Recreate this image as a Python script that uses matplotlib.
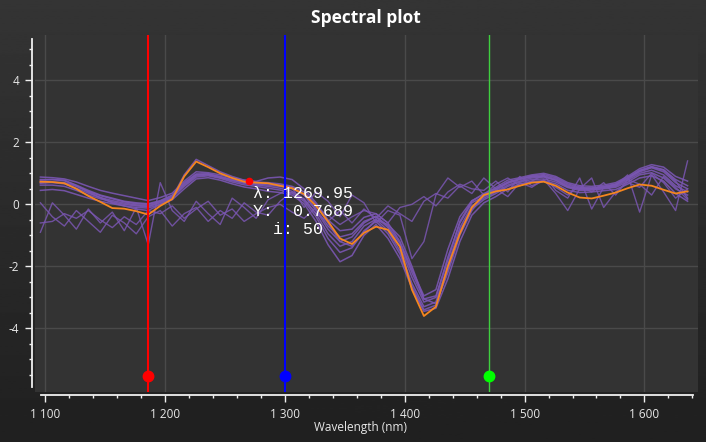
import numpy as np
import matplotlib
matplotlib.use("Agg")
import matplotlib.pyplot as plt
from matplotlib.ticker import MultipleLocator, FixedLocator, FuncFormatter

plt.rcParams["axes.unicode_minus"] = False

# wavelength grid (nm)
wl = np.arange(1096, 1646, 10)

# mean / reference spectrum (orange)
orange = [0.73, 0.72, 0.68, 0.50, 0.27, 0.08, -0.12, -0.14, -0.22, -0.33,
          -0.05, 0.17, 0.90, 1.38, 1.20, 1.00, 0.85, 0.73, 0.70, 0.68,
          0.60, 0.52, 0.33, -0.05, -0.55, -1.10, -1.28, -0.92, -0.72, -0.82,
          -1.37, -2.75, -3.60, -3.30, -2.00, -0.94, -0.10, 0.30, 0.42, 0.48,
          0.60, 0.70, 0.73, 0.60, 0.38, 0.22, 0.19, 0.28, 0.38, 0.52,
          0.64, 0.60, 0.47, 0.35, 0.42]

# smooth spectra (purple)
p1 = [0.88, 0.86, 0.82, 0.72, 0.58, 0.45, 0.36, 0.28, 0.20, 0.12,
      0.22, 0.36, 0.75, 1.05, 1.02, 0.95, 0.85, 0.78, 0.74, 0.85,
      0.88, 0.80, 0.50, 0.05, -0.50, -0.85, -0.80, -0.42, -0.30, -0.60,
      -1.20, -2.10, -2.95, -2.75, -1.45, -0.40, 0.12, 0.32, 0.55, 0.78,
      0.86, 0.95, 1.00, 0.90, 0.70, 0.60, 0.58, 0.62, 0.70, 0.90,
      1.15, 1.28, 1.20, 0.90, 0.75]
p2 = [0.78, 0.80, 0.78, 0.62, 0.45, 0.30, 0.20, 0.10, 0.05, 0.02,
      0.12, 0.30, 0.70, 0.98, 0.98, 0.90, 0.80, 0.72, 0.66, 0.62,
      0.58, 0.50, 0.30, -0.15, -0.70, -1.05, -0.95, -0.55, -0.40, -0.75,
      -1.35, -2.35, -3.15, -3.00, -1.70, -0.60, 0.05, 0.25, 0.45, 0.68,
      0.80, 0.90, 0.92, 0.82, 0.62, 0.52, 0.50, 0.55, 0.62, 0.82,
      1.05, 1.18, 1.05, 0.70, 0.50]
p3 = [0.70, 0.70, 0.66, 0.52, 0.36, 0.22, 0.12, 0.04, -0.02, -0.05,
      0.08, 0.25, 0.62, 0.92, 0.95, 0.86, 0.76, 0.68, 0.62, 0.58,
      0.52, 0.42, 0.18, -0.30, -0.95, -1.35, -1.20, -0.70, -0.48, -0.85,
      -1.50, -2.55, -3.30, -3.15, -1.95, -0.75, -0.05, 0.20, 0.40, 0.62,
      0.75, 0.85, 0.88, 0.78, 0.58, 0.48, 0.48, 0.52, 0.58, 0.78,
      1.00, 1.10, 0.95, 0.60, 0.40]
p4 = [0.62, 0.62, 0.58, 0.45, 0.30, 0.18, 0.08, 0.00, -0.05, -0.08,
      0.05, 0.22, 0.58, 0.88, 0.92, 0.84, 0.72, 0.63, 0.58, 0.52,
      0.46, 0.36, 0.10, -0.40, -1.10, -1.55, -1.40, -0.85, -0.55, -0.95,
      -1.60, -2.65, -3.40, -3.25, -2.10, -0.85, -0.15, 0.15, 0.35, 0.58,
      0.72, 0.80, 0.82, 0.72, 0.54, 0.45, 0.46, 0.50, 0.55, 0.72,
      0.95, 1.02, 0.85, 0.50, 0.30]
p5 = [0.45, 0.48, 0.44, 0.32, 0.20, 0.10, 0.02, -0.05, -0.10, -0.12,
      0.00, 0.15, 0.50, 0.82, 0.86, 0.78, 0.66, 0.56, 0.50, 0.42,
      0.38, 0.30, 0.02, -0.55, -1.30, -1.85, -1.65, -1.00, -0.65, -1.10,
      -1.75, -2.70, -3.45, -3.35, -2.40, -1.20, -0.35, 0.05, 0.25, 0.50,
      0.66, 0.74, 0.76, 0.66, 0.45, 0.38, 0.40, 0.44, 0.48, 0.65,
      0.85, 0.92, 0.75, 0.35, 0.10]
p6 = [0.80, 0.80, 0.76, 0.60, 0.40, 0.22, 0.05, -0.05, -0.15, -0.20,
      0.00, 0.22, 0.95, 1.45, 1.25, 1.05, 0.90, 0.78, 0.72, 0.70,
      0.66, 0.58, 0.40, 0.00, -0.60, -1.20, -1.35, -0.90, -0.50, -0.65,
      -1.05, -2.00, -3.05, -3.20, -2.20, -1.00, -0.20, 0.28, 0.50, 0.70,
      0.82, 0.88, 0.90, 0.78, 0.56, 0.50, 0.52, 0.56, 0.64, 0.85,
      1.10, 1.22, 1.12, 0.80, 0.60]
p7 = [0.68, 0.72, 0.70, 0.58, 0.42, 0.28, 0.18, 0.08, 0.02, 0.00,
      0.10, 0.28, 0.66, 0.96, 0.98, 0.88, 0.78, 0.70, 0.66, 0.66,
      0.62, 0.55, 0.30, -0.20, -0.80, -1.20, -1.05, -0.60, -0.38, -0.70,
      -1.25, -2.20, -3.05, -2.95, -1.80, -0.55, 0.10, 0.35, 0.50, 0.72,
      0.82, 0.92, 0.96, 0.86, 0.66, 0.55, 0.53, 0.58, 0.66, 0.86,
      1.08, 1.20, 1.10, 0.75, 0.20]

# noisy spectra (purple)
n1 = [-0.90, 0.05, -0.35, -0.80, -0.15, -0.60, -0.25, -0.85, -0.10, -1.30,
      0.70, -0.20, -0.55, 0.10, -0.30, -0.65, 0.20, -0.10, -0.45, 0.15,
      0.35, 0.55, -0.10, 0.40, 0.10, -0.40, 0.30, 0.05, -0.60, -0.20,
      -0.35, -1.75, -1.20, 0.30, 0.85, 0.55, 0.75, 0.30, 0.65, 0.85,
      0.60, 0.75, 0.95, 0.45, 0.20, 0.85, -0.15, 0.55, 0.60, 0.95,
      -0.25, 0.95, 0.40, -0.20, 1.40]
n2 = [0.05, -0.40, -0.70, -0.20, -0.55, -0.90, -0.35, -0.60, -0.95, -0.40,
      -0.20, -0.70, -0.30, -0.10, -0.55, -0.20, -0.45, 0.05, -0.25, -0.35,
      0.10, 0.40, 0.15, -0.30, -0.55, -0.20, -0.60, -0.15, -0.45, -0.05,
      -0.30, -0.55, 0.10, 0.35, 0.20, 0.60, 0.35, 0.85, 0.50, 0.25,
      0.70, 0.55, 0.80, 0.35, -0.20, 0.50, 0.85, -0.10, 0.40, 0.70,
      0.55, 1.00, 0.70, 0.20, 0.50]
n3 = [-0.60, -0.55, -0.30, -0.45, -0.20, -0.50, -0.75, -0.40, -0.65, -0.20,
      -0.30, -0.05, -0.45, -0.15, 0.10, -0.35, -0.15, -0.55, -0.30, -0.10,
      0.00, -0.25, -0.45, -0.10, -0.35, -0.65, -0.40, -0.20, -0.30, -0.60,
      -0.10, 0.00, 0.25, -0.05, 0.40, 0.65, 0.50, 0.45, 0.75, 0.40,
      0.90, 0.60, 0.75, 0.55, 0.30, 0.60, 0.40, 0.70, 0.30, 0.80,
      0.65, 0.30, 0.90, 0.55, 0.15]

smooth = [p1, p2, p3, p4, p5, p6, p7]
noisy = [n1, n2, n3]

# axis ticks
y_major = [-4, -2, 0, 2, 4]
y_minor = [-5.5, -5, -4.5, -3.5, -3, -2.5, -1.5, -1, -0.5,
           0.5, 1, 1.5, 2.5, 3, 3.5, 4.5, 5]

# cursors
cursor_x = [1186, 1300, 1470]
cursor_line = ["#ff0000", "#0000ff", "#3fcf3f"]
cursor_dot = ["#ff0000", "#0000ff", "#00ff00"]
cursor_y = -5.54

# hover point
hover_x, hover_y, hover_i = 1269.95, 0.7689, 50

W, H = 706, 442
fig = plt.figure(figsize=(W / 100, H / 100), dpi=100)

# background gradient
bg = fig.add_axes([0, 0, 1, 1], zorder=-5)
grad = np.linspace(0.205, 0.125, 256).reshape(-1, 1)
bg.imshow(grad, aspect="auto", cmap="gray", vmin=0, vmax=1, extent=[0, 1, 0, 1])
bg.axis("off")

ax = fig.add_axes([35 / W, 1 - 392 / H, (698 - 35) / W, (392 - 35) / H])
ax.set_facecolor("#333333")
ax.set_xlim(1091.5, 1644.7)
ax.set_ylim(-6.05, 5.46)

ax.grid(True, color="#4a4a4a", lw=1)
ax.set_axisbelow(True)

purple = "#7a56b2"
for s in noisy:
    ax.plot(wl, s, color=purple, lw=1.0, alpha=0.85)
for s in smooth:
    ax.plot(wl, s, color=purple, lw=1.1, alpha=0.9)
ax.plot(wl, orange, color="#f5861f", lw=1.3)

for cx, lc, dc in zip(cursor_x, cursor_line, cursor_dot):
    ax.axvline(cx, color=lc, lw=1.5 if lc != "#3fcf3f" else 1.0)
    ax.plot([cx], [cursor_y], "o", color=dc, ms=7.5, mec=dc)

ax.plot([hover_x], [hover_y], "o", color="#ff0000", ms=4.5)

# axes styling
for side in ["top", "right"]:
    ax.spines[side].set_visible(False)
ax.spines["left"].set_position(("outward", 2.2))
ax.spines["bottom"].set_position(("outward", 2.2))
ax.spines["left"].set_bounds(-5.89, 5.33)
ax.spines["bottom"].set_bounds(1096.5, 1640.5)
for side in ["left", "bottom"]:
    ax.spines[side].set_color("#f0f0f0")
    ax.spines[side].set_linewidth(1.3)

ax.xaxis.set_major_locator(MultipleLocator(100))
ax.xaxis.set_minor_locator(MultipleLocator(20))
ax.yaxis.set_major_locator(FixedLocator(y_major))
ax.yaxis.set_minor_locator(FixedLocator(y_minor))
ax.xaxis.set_major_formatter(FuncFormatter(lambda v, p: f"{int(v):,}".replace(",", " ")))
ax.yaxis.set_major_formatter(FuncFormatter(lambda v, p: f"{int(v)}"))
ax.tick_params(which="major", length=5, width=1, color="#f0f0f0",
               labelcolor="#e8e8e8", labelsize=8.5, pad=4)
ax.tick_params(which="minor", length=2.5, width=1, color="#f0f0f0")
for lab in ax.get_xticklabels() + ax.get_yticklabels():
    lab.set_fontfamily("Open Sans")

fig.text(366 / W, 1 - 18 / H, "Spectral plot", ha="center", va="center",
         color="white", fontsize=12.5, fontweight="bold", family="Open Sans")
fig.text(360 / W, 1 - 428 / H, "Wavelength (nm)", ha="center", va="center",
         color="#e8e8e8", fontsize=8.5, family="Open Sans")

# hover readout
lines = [f"\u03bb: {hover_x:.2f}", f"Y:  {hover_y:.4f}", f"  i: {hover_i}"]
for k, t in enumerate(lines):
    fig.text(253 / W, 1 - (193 + 18 * k) / H, t, ha="left", va="center",
             color="white", fontsize=12, family=["Liberation Mono", "DejaVu Sans Mono"])

fig.savefig("out.png", dpi=100, facecolor=fig.get_facecolor())
